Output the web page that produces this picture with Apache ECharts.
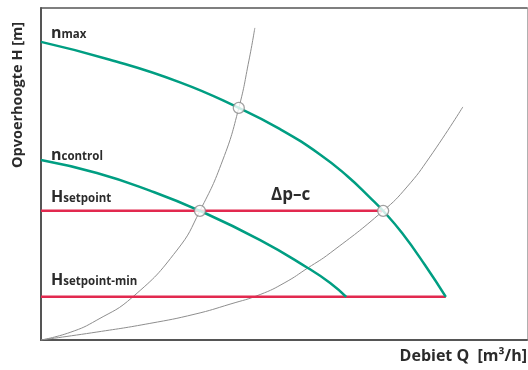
<!DOCTYPE html>
<html>
<head>
<meta charset="utf-8">
<script src="https://cdn.jsdelivr.net/npm/echarts@6/dist/echarts.min.js"></script>
<style>
  html, body { margin: 0; padding: 0; background: #fff; }
  #main { width: 528px; height: 370px; }
</style>
</head>
<body>
<div id="main"></div>
<script>
// Q (x) and H (y), axis range 0..10 (no ticks shown)
var nMax = [[0, 8.98], [1.4, 8.45], [2.86, 7.76], [4.07, 6.99], [4.92, 6.35], [5.74, 5.59],
  [6.30, 4.94], [6.77, 4.29], [7.04, 3.89], [7.43, 3.22], [7.90, 2.26], [8.33, 1.30]];
var nControl = [[0, 5.42], [1.15, 5.03], [2.24, 4.50], [3.27, 3.89], [4.51, 3.01], [5.49, 2.17],
  [5.95, 1.72], [6.28, 1.30]];
var systemSteep = [[0, 0], [0.60, 0.23], [1.15, 0.60], [1.89, 1.30], [2.80, 2.71], [3.27, 3.89],
  [3.74, 5.42], [4.07, 6.99], [4.28, 8.43], [4.40, 9.40]];
var systemFlat = [[0, 0], [1.15, 0.24], [2.24, 0.50], [3.17, 0.78], [3.89, 1.08], [4.51, 1.37],
  [5.02, 1.73], [5.49, 2.17], [5.95, 2.62], [7.04, 3.89], [7.53, 4.61], [8.00, 5.51], [8.68, 7.02]];
var hSetpoint = [[0, 3.89], [7.04, 3.89]];
var hSetpointMin = [[0, 1.30], [8.33, 1.30]];
var operatingPoints = [[4.07, 6.99], [3.27, 3.89], [7.04, 3.89]];

var teal = '#009e82';
var red = '#e2294f';
var grey = '#8e8e8e';
var ink = '#2b2b2b';
var font = '"Open Sans", Lato, sans-serif';

var myChart = echarts.init(document.getElementById('main'));

function plainAxis(pos, color, width) {
  return {
    type: 'value', position: pos, min: 0, max: 10,
    axisLine: { show: true, onZero: false, lineStyle: { color: color, width: width } },
    axisTick: { show: false }, axisLabel: { show: false }, splitLine: { show: false }
  };
}

function curve(data, color, width) {
  return {
    type: 'line', data: data, smooth: 0.5,
    showSymbol: false, silent: true,
    lineStyle: { color: color, width: width }
  };
}

var sub = function (size) {
  return { fontSize: size, fontWeight: 'bold', fontFamily: font, fill: ink, verticalAlign: 'bottom', lineHeight: 18 };
};
var rich = { a: sub(16), b: sub(11.5) };

var option = {
  animation: false,
  grid: { left: 41, right: 1, top: 8, bottom: 30 },
  xAxis: [plainAxis('bottom', '#555', 2), plainAxis('top', '#555', 1.5)],
  yAxis: [plainAxis('left', '#555', 2), plainAxis('right', '#b0b0b0', 1)],
  series: [
    curve(systemSteep, grey, 1),
    curve(systemFlat, grey, 1),
    curve(hSetpoint, red, 2.5),
    curve(hSetpointMin, red, 2.5),
    curve(nMax, teal, 2.5),
    curve(nControl, teal, 2.5),
    {
      type: 'scatter', data: operatingPoints, symbol: 'circle', symbolSize: 11, silent: true, z: 5,
      itemStyle: { color: '#fff', borderColor: '#8a8a8a', borderWidth: 1.3 }
    }
  ],
  graphic: [
    { type: 'text', left: 51, top: 25, style: { text: '{a|n}{b|max}', rich: rich } },
    { type: 'text', left: 51, top: 147, style: { text: '{a|n}{b|control}', rich: rich } },
    { type: 'text', left: 51, top: 189, style: { text: '{a|H}{b|setpoint}', rich: rich } },
    { type: 'text', left: 51, top: 272, style: { text: '{a|H}{b|setpoint-min}', rich: rich } },
    { type: 'text', left: 271, top: 187, style: { text: 'Δp–c', font: 'bold 17px ' + font, fill: ink } },
    { type: 'text', right: 1, top: 348, style: { text: 'Debiet Q  [m³/h]', font: 'bold 16px ' + font, fill: ink } },
    {
      type: 'text', rotation: Math.PI / 2, x: 10, y: 168,
      style: { text: 'Opvoerhoogte H [m]', font: 'bold 14.5px ' + font, fill: ink, align: 'left', verticalAlign: 'top' }
    }
  ]
};

myChart.setOption(option);
</script>
</body>
</html>
